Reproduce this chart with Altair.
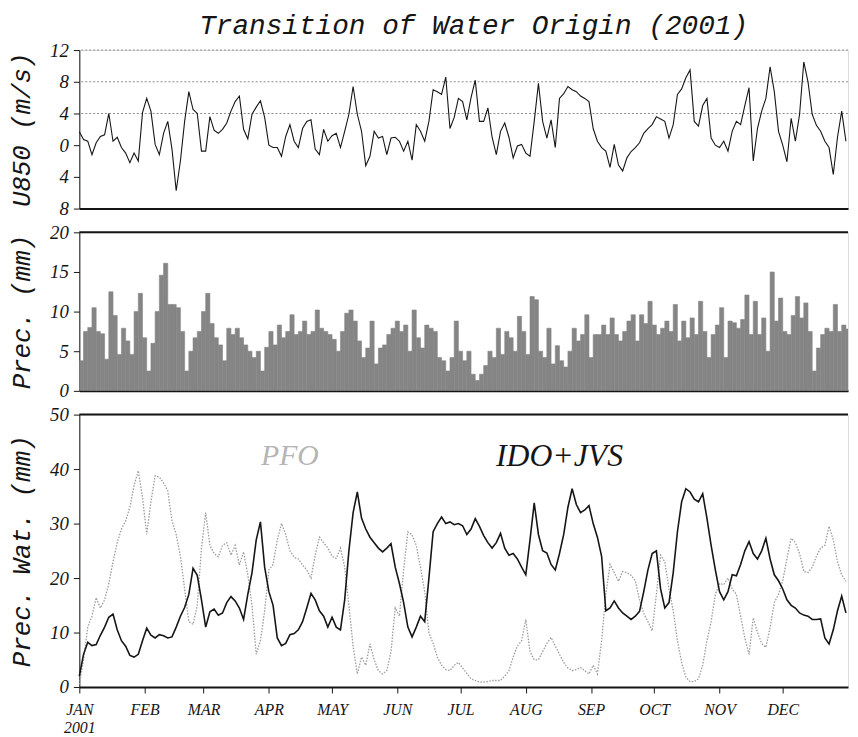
import altair as alt
import pandas as pd

# ---------------- data (2-day steps) ----------------
days = list(range(0, 365, 2))

u850 = [
    1.7, 0.7, 0.5, -1.2, 0.3, 1.1, 1.3, 4.0, 0.5, 1.0,
    -0.3, -1.0, -2.2, -1.0, -2.0, 4.1, 5.9, 4.3, 0.1, -1.2,
    1.5, 3.0, -0.5, -5.75, -2.0, 3.0, 6.75, 4.5, 4.0, -0.75,
    -0.75, 3.6, 1.9, 1.5, 2.0, 2.8, 4.3, 5.5, 6.2, 2.0,
    0.8, 3.9, 4.8, 5.6, 3.5, 0.0, -0.3, -0.3, -1.4, 1.1,
    2.6, 0.5, -0.3, 2.1, 3.0, 3.2, -0.5, -1.2, 2.0, 0.5,
    1.2, 1.5, -0.3, 1.75, 3.9, 7.4, 3.9, 1.75, -2.6, -1.4,
    1.75, 0.9, 1.1, -1.2, 0.9, 1.0, 0.5, -0.75, 0.5, -1.9,
    2.6, 1.75, 0.5, 3.0, 7.0, 6.75, 6.4, 8.6, 2.1, 3.5,
    5.9, 5.5, 3.2, 6.0, 8.2, 3.0, 3.0, 4.7, 1.0, -1.2,
    1.75, 2.8, 1.0, -1.6, -0.1, 0.1, -1.0, -1.4, 3.0, 7.8,
    3.0, 0.9, 3.2, -0.3, 5.9, 6.5, 7.4, 7.0, 6.75, 6.2,
    5.9, 5.5, 2.1, 0.5, -0.3, -0.75, -2.8, 0.1, -2.5, -3.25,
    -1.6, -0.8, -0.3, 0.3, 1.5, 2.1, 2.6, 3.6, 3.3, 3.0,
    0.9, 2.6, 6.4, 7.1, 8.5, 9.5, 3.0, 2.4, 5.0, 5.9,
    0.9, 0.0, -0.3, 0.5, -0.75, 1.75, 3.0, 2.6, 5.0, 7.25,
    -2.0, 2.1, 4.3, 5.9, 9.9, 6.75, 1.75, 0.0, -2.1, 3.4,
    0.5, 3.9, 10.5, 8.0, 3.9, 2.5, 1.75, 0.5, -0.3, -3.7,
    1.0, 4.3, 0.5,
]

prec = [
    3.8, 7.5, 8.0, 10.5, 7.5, 7.2, 4.0, 12.5, 9.5, 4.6,
    7.9, 6.3, 4.6, 10.0, 12.3, 6.7, 2.5, 6.0, 10.0, 14.6,
    16.1, 10.9, 10.9, 10.5, 7.5, 2.5, 5.0, 6.7, 7.5, 10.0,
    12.3, 8.5, 6.7, 5.8, 3.8, 7.9, 7.1, 7.9, 6.7, 5.8,
    5.0, 4.2, 5.0, 2.5, 5.5, 7.5, 5.8, 8.3, 6.7, 7.5,
    9.6, 7.1, 7.5, 8.8, 7.1, 7.5, 10.2, 7.9, 7.5, 7.1,
    6.5, 5.0, 7.5, 9.8, 10.2, 8.8, 6.3, 4.2, 5.4, 8.8,
    3.4, 5.4, 5.8, 7.1, 7.9, 8.8, 7.5, 8.3, 5.0, 10.2,
    6.7, 5.4, 8.3, 7.9, 7.5, 4.2, 3.8, 2.5, 4.2, 8.8,
    5.0, 3.8, 5.0, 2.1, 1.3, 2.1, 3.2, 5.0, 4.2, 7.9,
    4.6, 7.5, 6.7, 5.0, 9.4, 7.5, 4.6, 11.9, 11.5, 5.0,
    4.2, 7.9, 3.4, 5.7, 3.8, 3.0, 5.0, 7.9, 6.3, 7.1,
    9.6, 4.2, 7.1, 7.1, 8.3, 7.1, 9.2, 7.1, 6.3, 7.5,
    8.8, 9.6, 6.3, 9.6, 8.5, 11.3, 8.3, 7.1, 7.9, 8.8,
    7.5, 10.9, 6.3, 8.8, 6.7, 9.2, 7.1, 11.3, 7.5, 4.2,
    7.1, 8.3, 10.5, 4.2, 8.8, 8.6, 7.9, 9.0, 12.1, 7.1,
    11.3, 7.1, 9.2, 5.0, 15.0, 8.8, 11.7, 7.5, 7.1, 9.5,
    11.9, 9.2, 11.1, 7.5, 2.5, 5.4, 7.1, 7.9, 7.5, 10.9,
    7.5, 8.3, 7.8,
]

pfo = [
    0.5, 5.0, 11.0, 13.0, 16.4, 14.5, 16.0, 19.0, 23.0, 26.5,
    29.0, 30.5, 33.0, 37.0, 39.7, 34.8, 28.0, 34.0, 38.8, 38.5,
    37.5, 36.0, 30.5, 28.0, 24.0, 18.0, 12.0, 11.5, 15.0, 25.5,
    32.0, 26.0, 24.5, 23.9, 26.0, 26.5, 24.2, 26.0, 22.4, 24.8,
    20.6, 15.0, 6.0, 8.5, 14.0, 21.5, 22.5, 27.0, 30.0, 28.0,
    25.0, 23.8, 23.5, 22.4, 21.5, 20.0, 24.2, 27.5, 26.5, 25.5,
    24.0, 23.6, 25.5, 22.0, 15.0, 7.5, 2.4, 5.5, 4.0, 7.9,
    5.0, 3.0, 2.4, 3.0, 6.5, 14.5, 13.0, 21.5, 28.5, 27.9,
    26.0, 22.0, 17.5, 10.0, 8.0, 5.5, 4.0, 3.2, 3.0, 4.0,
    4.5, 3.5, 2.5, 1.5, 1.2, 0.9, 0.9, 1.0, 1.2, 1.2,
    1.2, 2.0, 3.0, 5.5, 7.5, 8.5, 12.4, 6.5, 5.0, 5.0,
    6.5, 8.0, 9.1, 7.5, 6.0, 4.5, 3.5, 3.0, 3.2, 3.6,
    3.0, 2.4, 4.0, 2.4, 8.5, 17.0, 22.5, 21.0, 19.4, 21.2,
    21.0, 20.5, 19.5, 16.0, 13.5, 12.0, 10.3, 17.0, 24.2, 23.0,
    18.0, 14.0, 8.5, 4.5, 1.8, 1.0, 1.0, 1.5, 4.0, 8.5,
    12.0, 17.0, 19.0, 18.8, 20.0, 18.0, 17.0, 13.0, 9.0, 6.0,
    12.7, 10.0, 8.0, 7.3, 10.9, 15.5, 17.0, 19.5, 23.6, 27.3,
    26.5, 24.5, 21.2, 21.0, 22.0, 24.0, 25.5, 26.0, 29.5, 27.0,
    23.0, 20.6, 19.4,
]

ido_jvs = [
    2.0, 6.0, 8.2, 7.6, 7.8, 9.5, 11.0, 12.8, 13.4, 10.5,
    8.5, 7.5, 5.8, 5.5, 6.0, 8.5, 10.8, 9.5, 9.0, 9.6,
    9.4, 9.0, 9.2, 11.0, 13.0, 14.6, 17.0, 21.8, 20.5, 16.0,
    11.0, 13.8, 14.3, 13.2, 13.6, 15.5, 16.6, 15.8, 14.5, 12.4,
    17.0, 21.0, 27.0, 30.3, 22.0, 17.5, 15.0, 9.0, 7.6, 8.0,
    9.6, 9.8, 10.5, 12.0, 14.5, 17.2, 16.0, 14.0, 13.0, 11.0,
    12.8, 11.0, 10.5, 16.0, 25.0, 32.0, 35.8, 31.0, 29.0, 27.5,
    26.5, 25.5, 24.8, 25.5, 26.3, 22.0, 19.0, 15.5, 11.0, 9.2,
    11.0, 13.0, 12.0, 20.0, 28.5, 30.0, 31.2, 30.0, 30.3, 29.8,
    30.0, 29.6, 28.0, 29.0, 30.9, 29.5, 27.8, 26.5, 25.5, 26.5,
    28.2, 25.5, 24.2, 24.5, 23.5, 22.0, 20.6, 27.0, 33.8, 28.0,
    25.0, 24.6, 22.5, 21.5, 24.5, 28.0, 33.0, 36.4, 33.5, 32.0,
    32.5, 33.3, 30.0, 27.5, 24.0, 14.0, 14.5, 15.8, 14.5, 13.6,
    13.0, 12.4, 13.0, 13.9, 17.5, 21.5, 24.5, 25.0, 18.0, 14.5,
    15.5, 21.0, 28.5, 34.0, 36.4, 35.8, 34.5, 34.0, 35.5, 31.0,
    26.0, 21.5, 17.5, 16.0, 17.5, 20.6, 20.4, 22.5, 25.0, 26.7,
    24.5, 23.5, 25.0, 27.3, 23.5, 20.6, 19.5, 18.0, 16.0, 15.0,
    14.5, 13.6, 13.2, 13.0, 12.4, 12.4, 12.5, 9.0, 7.9, 10.5,
    14.0, 16.7, 13.6,
]

month_starts = [0, 31, 59, 90, 120, 151, 181, 212, 243, 273, 304, 334]
month_names = ["JAN", "FEB", "MAR", "APR", "MAY", "JUN",
               "JUL", "AUG", "SEP", "OCT", "NOV", "DEC"]
year_label = "2001"
u_ticks = [-8, -4, 0, 4, 8, 12]
u_grid = [4, 8, 12]
ann_text = ["PFO", "IDO+JVS"]
ann_day = [100, 228]
ann_value = [42.4, 42.4]

# ---------------- tables ----------------
df = pd.DataFrame({"day": days, "u850": u850, "prec": prec,
                   "pfo": pfo, "ido": ido_jvs})
df["day_end"] = df["day"] + 2
ann = pd.DataFrame({"text": ann_text, "day": ann_day, "value": ann_value})

W = 776
INK = "#151515"
BAR = "#858585"
xscale = alt.Scale(domain=[0, 365], nice=False, zero=False)

x_hidden = alt.X("day:Q", scale=xscale,
                 axis=alt.Axis(labels=False, ticks=False, title=None, grid=False,
                               domainWidth=2, domainColor=INK))

names_js = "[" + ",".join(f"'{m}'" for m in month_names) + "]"
starts_js = "[" + ",".join(str(s) for s in month_starts) + "]"
label_expr = (f"datum.value == {month_starts[0]} ? ['{month_names[0]}', '{year_label}'] : "
              f"{names_js}[indexof({starts_js}, datum.value)]")

x_bottom = alt.X("day:Q", scale=xscale,
                 axis=alt.Axis(values=month_starts, labelExpr=label_expr, title=None,
                               grid=False, tickSize=6, tickColor=INK, domainWidth=2,
                               domainColor=INK, labelFont="Liberation Serif",
                               labelFontStyle="italic", labelFontSize=16,
                               labelColor=INK, labelPadding=9, labelLineHeight=18,
                               labelAlign="center", labelFlush=False))

yax = dict(grid=False, tickSize=6, tickColor=INK, domainColor=INK,
           labelFont="Liberation Serif", labelFontStyle="italic", labelFontSize=19,
           labelColor=INK, labelPadding=5, titleFont="Liberation Mono",
           titleFontStyle="italic", titleFontSize=26, titleFontWeight="normal",
           titleColor=INK, titlePadding=15)

# ---------------- panel 1: U850 ----------------
u_scale = alt.Scale(domain=[-8, 12], nice=False)
u_axis = alt.Axis(values=u_ticks, labelExpr="abs(datum.value)", title="U850 (m/s)", **yax)
grid1 = alt.Chart(pd.DataFrame({"g": u_grid})).mark_rule(
    color="#8a8a8a", strokeDash=[2, 2], strokeWidth=1
).encode(y=alt.Y("g:Q", scale=u_scale, axis=u_axis))
uline = alt.Chart(df).mark_line(color=INK, strokeWidth=1.1).encode(
    x=x_hidden, y=alt.Y("u850:Q", scale=u_scale, axis=u_axis))
panel1 = alt.layer(grid1, uline).properties(width=W, height=160)

# ---------------- panel 2: precipitation ----------------
p_scale = alt.Scale(domain=[0, 20], nice=False)
p_axis = alt.Axis(values=[0, 5, 10, 15, 20], title="Prec. (mm)", **yax)
bars = alt.Chart(df).mark_bar(color=BAR, stroke=BAR, strokeWidth=0.6, clip=True).encode(
    x=x_hidden, x2="day_end:Q",
    y=alt.Y("prec:Q", scale=p_scale, axis=p_axis), y2=alt.datum(0))
top2 = alt.Chart(pd.DataFrame({"t": [20]})).mark_rule(color=INK, strokeWidth=2).encode(
    y=alt.Y("t:Q", scale=p_scale, axis=p_axis))
panel2 = alt.layer(bars, top2).properties(width=W, height=160)

# ---------------- panel 3: precipitable water ----------------
w_scale = alt.Scale(domain=[0, 50], nice=False)
w_axis = alt.Axis(values=[0, 10, 20, 30, 40, 50], title="Prec. Wat. (mm)", **yax)
pfo_line = alt.Chart(df).mark_line(color="#9a9a9a", strokeWidth=1.3,
                                   strokeDash=[1.5, 1.5]).encode(
    x=x_bottom, y=alt.Y("pfo:Q", scale=w_scale, axis=w_axis))
ido_line = alt.Chart(df).mark_line(color=INK, strokeWidth=1.6).encode(
    x=x_bottom, y=alt.Y("ido:Q", scale=w_scale, axis=w_axis))
top3 = alt.Chart(pd.DataFrame({"t": [50]})).mark_rule(color=INK, strokeWidth=2).encode(
    y=alt.Y("t:Q", scale=w_scale, axis=w_axis))
pfo_txt = alt.Chart(ann[ann.text == "PFO"]).mark_text(
    font="Liberation Serif", fontStyle="italic", fontSize=30, color="#b5b5b5"
).encode(x=alt.X("day:Q", scale=xscale), y=alt.Y("value:Q", scale=w_scale), text="text:N")
ido_txt = alt.Chart(ann[ann.text == "IDO+JVS"]).mark_text(
    font="Liberation Serif", fontStyle="italic", fontSize=32, color=INK
).encode(x=alt.X("day:Q", scale=xscale), y=alt.Y("value:Q", scale=w_scale), text="text:N")
panel3 = alt.layer(pfo_line, ido_line, top3, pfo_txt, ido_txt).properties(width=W, height=275)

chart = alt.vconcat(panel1, panel2, panel3, spacing=24, bounds="flush").properties(
    title=alt.TitleParams("Transition of Water Origin (2001)", font="Liberation Mono",
                          fontStyle="italic", fontSize=28, fontWeight="normal",
                          color=INK, anchor="middle", offset=1, dx=45),
    padding=0,
).configure_view(stroke=None).configure(background="white")

chart.save("out.html", embed_options={"renderer": "svg", "actions": False})
